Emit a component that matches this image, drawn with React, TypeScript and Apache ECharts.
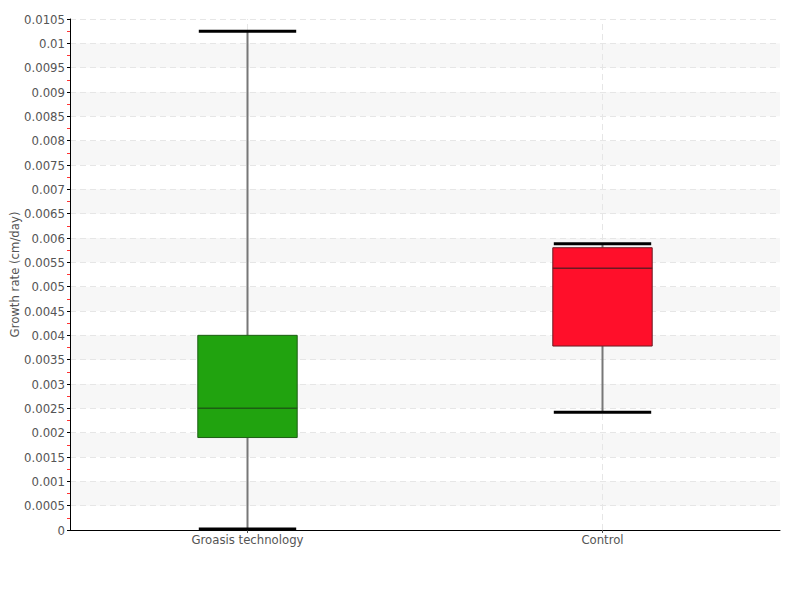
import React, { useEffect, useRef } from "react";
import * as echarts from "echarts";

const categories = ["Groasis technology", "Control"];
// [min, Q1, median, Q3, max]
const boxValues = [
  [0.00002, 0.0019, 0.0025, 0.004, 0.01025],
  [0.00242, 0.00378, 0.00538, 0.0058, 0.00588],
];
const boxColors = ["#21a30f", "#ff0f2a"];
const borderColors = ["#1d5e14", "#6b1a22"];
const yTicks = { min: 0, max: 0.0105, interval: 0.0005 };

const FONT = "'Liberation Sans Narrow', 'DejaVu Sans Condensed', sans-serif";

export default function App() {
  const ref = useRef<HTMLDivElement>(null);
  useEffect(() => {
    const chart = echarts.init(ref.current!, null, { renderer: "svg" });
    const data = boxValues.map((v, i) => [i, ...v]);
    chart.setOption({
      animation: false,
      backgroundColor: "#fff",
      grid: { left: 70, right: 20, top: 19, bottom: 70, containLabel: false, outerBoundsMode: "none" },
      xAxis: {
        type: "category",
        data: categories,
        axisLine: { lineStyle: { color: "#000" } },
        axisTick: { show: true, alignWithLabel: true, length: 3, lineStyle: { color: "#555" } },
        axisLabel: { color: "#555", fontFamily: FONT, fontSize: 13, margin: 3 },
        splitLine: { show: false },
      },
      yAxis: {
        type: "value",
        min: yTicks.min,
        max: yTicks.max,
        interval: yTicks.interval,
        name: "Growth rate (cm/day)",
        nameLocation: "middle",
        nameGap: 49,
        nameMoveOverlap: false,
        nameTextStyle: { color: "#555", fontFamily: FONT, fontSize: 13 },
        axisLine: { show: true, lineStyle: { color: "#000" } },
        axisTick: { show: true, length: 3, lineStyle: { color: "#000" } },
        minorTick: { show: true, splitNumber: 2, length: 3, lineStyle: { color: "#ff3333" } },
        axisLabel: { color: "#555", fontFamily: FONT, fontSize: 13, margin: 5 },
        splitLine: { show: true, lineStyle: { color: "#e6e6e6", type: [6, 4] } },
        splitArea: { show: true, areaStyle: { color: ["#ffffff", "#f7f7f7"] } },
      },
      series: [
        {
          type: "custom",
          data,
          renderItem: (params: any, api: any) => {
            const idx = api.value(0);
            const vals = [1, 2, 3, 4, 5].map((k) => api.value(k));
            const band = api.size([1, 0])[0];
            const half = band * 0.14;
            const capHalf = half - 1;
            const pMin = api.coord([idx, vals[0]]);
            const pQ1 = api.coord([idx, vals[1]]);
            const pMed = api.coord([idx, vals[2]]);
            const pQ3 = api.coord([idx, vals[3]]);
            const pMax = api.coord([idx, vals[4]]);
            const cx = pMin[0];
            return {
              type: "group",
              children: [
                {
                  type: "line",
                  shape: { x1: cx, y1: pMax[1], x2: cx, y2: pQ3[1] },
                  style: { stroke: "#777", lineWidth: 2 },
                },
                {
                  type: "line",
                  shape: { x1: cx, y1: pQ1[1], x2: cx, y2: pMin[1] },
                  style: { stroke: "#777", lineWidth: 2 },
                },
                {
                  type: "rect",
                  shape: { x: cx - half, y: pQ3[1], width: half * 2, height: pQ1[1] - pQ3[1] },
                  style: { fill: boxColors[idx], stroke: borderColors[idx], lineWidth: 1, opacity: 1 },
                },
                {
                  type: "line",
                  shape: { x1: cx - half, y1: pMed[1], x2: cx + half, y2: pMed[1] },
                  style: { stroke: borderColors[idx], lineWidth: 1.5 },
                },
                {
                  type: "line",
                  shape: { x1: cx - capHalf, y1: pMax[1], x2: cx + capHalf, y2: pMax[1] },
                  style: { stroke: "#000", lineWidth: 3 },
                },
                {
                  type: "line",
                  shape: { x1: cx - capHalf, y1: pMin[1], x2: cx + capHalf, y2: pMin[1] },
                  style: { stroke: "#000", lineWidth: 3 },
                },
              ],
            };
          },
          markLine: {
            silent: true,
            symbol: "none",
            label: { show: false },
            lineStyle: { color: "#e6e6e6", type: [6, 4], width: 1 },
            z: 0,
            data: categories.map((c) => ({ xAxis: c })),
          },
        },
      ],
    });
    return () => chart.dispose();
  }, []);
  return (
    <div
      ref={ref}
      style={{ position: "absolute", left: 0, top: 0, width: 800, height: 600 }}
    />
  );
}
